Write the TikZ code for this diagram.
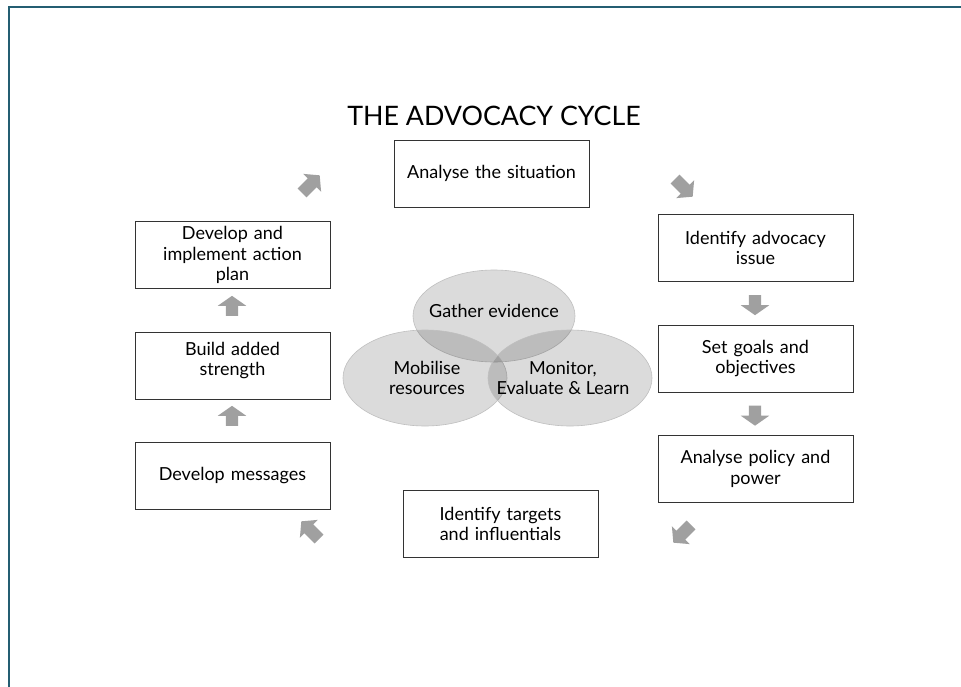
\documentclass[tikz,border=0pt]{standalone}
\usepackage{fontspec}
\setmainfont{Lato}
\usetikzlibrary{shapes.arrows,shapes.geometric}
\definecolor{frameblue}{RGB}{36,94,114}
\definecolor{arrowgray}{RGB}{160,160,160}
\begin{document}
\begin{tikzpicture}[x=1pt,y=-1pt,
  stagebox/.style={draw=black!80, line width=0.8pt, fill=white,
    minimum width=195pt, minimum height=67pt, inner sep=2pt,
    text width=190pt, align=center,
    font=\fontsize{18}{20.5}\selectfont},
  bubble/.style={ellipse, draw=black!25, line width=0.6pt,
    fill=black, fill opacity=0.14, text opacity=1,
    minimum width=164pt, minimum height=96pt, inner sep=0pt},
  bubbletext/.style={align=center, font=\fontsize{18}{20.5}\selectfont},
  flowarrow/.style={single arrow, fill=arrowgray, draw=none,
    minimum height=20pt, inner xsep=0pt, inner ysep=0pt,
    single arrow head extend=8pt, single arrow tip angle=110},
  diagarrow/.style={single arrow, fill=arrowgray, draw=none,
    minimum height=25pt, inner xsep=0pt, inner ysep=0pt,
    single arrow head extend=6.5pt, single arrow tip angle=100}
]
\newcommand{\shaft}{\rule{0pt}{12pt}}
\useasboundingbox (0,0) rectangle (961,687);
\fill[white] (0,0) rectangle (961,687);

% frame edges
\draw[frameblue, line width=2pt] (9,687) -- (9,7) -- (961,7);

% title
\node[font=\fontsize{26.8}{30}\selectfont] (title) at (494,116) {THE ADVOCACY CYCLE};

% central overlapping bubbles
\node[bubble, minimum width=162pt, minimum height=92pt] (gather) at (494,316) {};
\node[bubble] (mobilise) at (425,378) {};
\node[bubble] (monitor) at (570,378) {};
\node[bubbletext] (gathertxt) at (494,311) {Gather evidence};
\node[bubbletext] (mobilisetxt) at (427,378) {Mobilise\\resources};
\node[bubbletext] (monitortxt) at (563,378) {Monitor,\\Evaluate \& Learn};

% stages of the cycle
\node[stagebox] (situation) at (491.5,173.5) {Analyse the situation};
\node[stagebox] (issue) at (755.5,248) {Identify advocacy\\issue};
\node[stagebox] (goals) at (755.5,358.5) {Set goals and\\objectives};
\node[stagebox] (policy) at (755.5,469) {Analyse policy and\\power};
\node[stagebox] (targets) at (500.5,524) {Identify targets\\and influentials};
\node[stagebox] (messages) at (232.5,476) {Develop messages};
\node[stagebox] (strength) at (232.5,365.5) {Build added\\strength\rule[-13pt]{0pt}{0pt}};
\node[stagebox] (plan) at (232.5,255) {Develop and\\implement action\\plan};

% block arrows between stages
\node[diagarrow, rotate=-45] (a1) at (682,186) {\shaft};
\node[flowarrow, rotate=-90] (a2) at (755,303) {\shaft};
\node[flowarrow, rotate=-90] (a3) at (755,413.5) {\shaft};
\node[diagarrow, rotate=-135] (a4) at (684,532) {\shaft};
\node[diagarrow, rotate=135] (a5) at (312,532) {\shaft};
\node[flowarrow, rotate=90] (a6) at (232,418) {\shaft};
\node[flowarrow, rotate=90] (a7) at (232,308) {\shaft};
\node[diagarrow, rotate=45] (a8) at (309,186) {\shaft};
\end{tikzpicture}
\end{document}
